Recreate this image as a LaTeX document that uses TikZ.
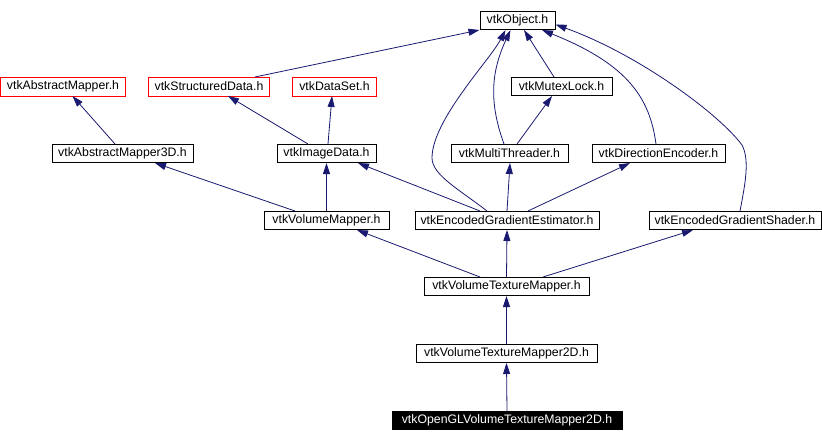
\documentclass[tikz,border=0pt]{standalone}
\usepackage{fontspec}
\setmainfont{Liberation Sans}
\usetikzlibrary{arrows.meta}
\definecolor{edgeblue}{HTML}{191970}
\definecolor{boxred}{HTML}{FF0000}
\begin{document}
\begin{tikzpicture}[x=1pt,y=-1pt,
  basebox/.style={line width=1pt,minimum height=18pt,inner sep=0pt,font=\fontsize{12.3}{14}\selectfont},
  box/.style={basebox,draw=black,fill=white,text=black},
  redbox/.style={basebox,text=black},
  redframe/.style={draw=boxred,line width=1pt},
  darkbox/.style={basebox,draw=black,fill=black,text=white},
  edge/.style={draw=edgeblue,line width=0.8pt,-{Triangle[length=11pt,width=7pt]}}]
\useasboundingbox (0,0) rectangle (822,442);
\node[box,minimum width=75pt] (obj) at (517.5,20.5) {vtkObject.h};
\node[redbox,minimum width=124pt] (am) at (63,86.5) {vtkAbstractMapper.h};
\node[redbox,minimum width=120pt] (sd) at (209,86.5) {vtkStructuredData.h};
\node[redbox,minimum width=83pt] (ds) at (334.5,86.5) {vtkDataSet.h};
\draw[redframe] (am.north west) rectangle (am.south east);
\draw[redframe] (sd.north west) rectangle (sd.south east);
\draw[redframe] (ds.north west) rectangle (ds.south east);
\node[box,minimum width=101pt] (mutex) at (561.5,86.5) {vtkMutexLock.h};
\node[box,minimum width=141pt] (am3d) at (122.5,153.5) {vtkAbstractMapper3D.h};
\node[box,minimum width=99pt] (img) at (326.5,153.5) {vtkImageData.h};
\node[box,minimum width=117pt] (mt) at (509.5,153.5) {vtkMultiThreader.h};
\node[box,minimum width=133pt] (de) at (658.5,153.5) {vtkDirectionEncoder.h};
\node[box,minimum width=125pt] (vm) at (326.5,220.5) {vtkVolumeMapper.h};
\node[box,minimum width=184pt] (ege) at (507,220.5) {vtkEncodedGradientEstimator.h};
\node[box,minimum width=172pt] (egs) at (735,220.5) {vtkEncodedGradientShader.h};
\node[box,minimum width=165pt] (vtm) at (506.5,286.5) {vtkVolumeTextureMapper.h};
\node[box,minimum width=181pt] (vtm2d) at (506.5,353.5) {vtkVolumeTextureMapper2D.h};
\node[darkbox,minimum width=230pt] (ogl) at (507,420.5) {vtkOpenGLVolumeTextureMapper2D.h};

\draw[edge] ([xshift=46pt]sd.north) -- (obj.south west);
\draw[edge] ([xshift=-7.5pt]am3d.north) -- ([xshift=9.5pt]am.south);
\draw[edge] ([xshift=-18.5pt]img.north) -- ([xshift=19pt]sd.south);
\draw[edge] ([xshift=1.5pt]img.north) -- ([xshift=-2.5pt]ds.south);
\draw[edge] ([xshift=-31.5pt]vm.north) -- ([xshift=32.5pt]am3d.south);
\draw[edge] (vm.north) -- (img.south);
\draw[edge] ([xshift=-27pt]ege.north) -- ([xshift=31.5pt]img.south);
\draw[edge] ([xshift=-20pt]ege.north) .. controls (460,190) and (432,175) .. (432,158) .. controls (432,120) and (490,60) .. ([xshift=-12pt]obj.south);
\draw[edge] ([xshift=-5.5pt]mt.north) .. controls (488,100) and (492,70) .. ([xshift=-7pt]obj.south);
\draw[edge] ([xshift=7.5pt]mt.north) -- ([xshift=-9.5pt]mutex.south);
\draw[edge] ([xshift=-7.5pt]mutex.north) -- ([xshift=6.5pt]obj.south);
\draw[edge] ([xshift=-2.5pt]de.north) .. controls (650,100) and (630,65) .. ([xshift=24.5pt]obj.south);
\draw[edge] ([xshift=5pt]egs.north) .. controls (745,185) and (750,160) .. (742,145) .. controls (720,115) and (640,55) .. ([yshift=-4pt]obj.east);
\draw[edge] (ege.north) -- ([xshift=0.5pt]mt.south);
\draw[edge] ([xshift=21pt]ege.north) -- ([xshift=-28.5pt]de.south);
\draw[edge] ([xshift=-26.5pt]vtm.north) -- ([xshift=30.5pt]vm.south);
\draw[edge] (vtm.north) -- (ege.south);
\draw[edge] ([xshift=36.5pt]vtm.north) -- ([xshift=-42pt]egs.south);
\draw[edge] (vtm2d.north) -- (vtm.south);
\draw[edge] (ogl.north) -- (vtm2d.south);
\end{tikzpicture}
\end{document}
